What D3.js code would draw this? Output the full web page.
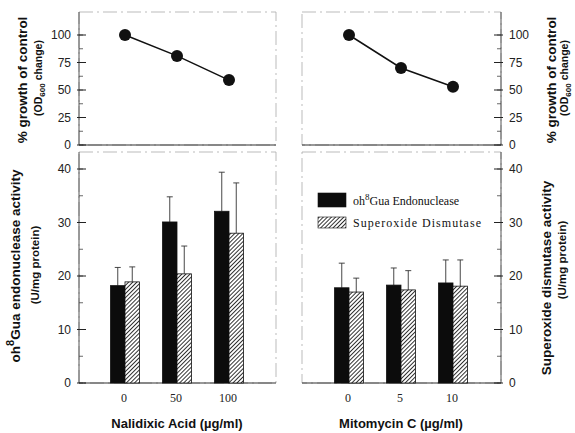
<!DOCTYPE html>
<html>
<head>
<meta charset="utf-8">
<script src="https://cdn.jsdelivr.net/npm/d3@7"></script>
<style>
  body { margin: 0; background: #fff; }
  svg { display: block; }
  .tick-label { font-family: "Liberation Sans", Arial, sans-serif; font-size: 12px; fill: #222; }
  .dose-label { font-family: "Liberation Serif", "Times New Roman", serif; font-size: 12px; fill: #222; }
  .title { font-family: "Liberation Sans", Arial, sans-serif; font-weight: bold; fill: #111; }
  .legend-text { font-family: "Liberation Serif", "Times New Roman", serif; font-size: 12px; fill: #111; }
</style>
</head>
<body>
<svg id="chart" width="575" height="433"></svg>
<script>
// doses per drug
var nalDoses = ["0", "50", "100"];
var mitDoses = ["0", "5", "10"];

// % growth of control (OD600 change)
var nalGrowth = [100, 81, 59];
var mitGrowth = [100, 70, 53];

// enzyme activities, U/mg protein (mean and error)
var nalEndo = [18.2, 30.1, 32.1];
var nalEndoErr = [3.4, 4.7, 7.3];
var nalSod = [18.9, 20.4, 28.0];
var nalSodErr = [2.8, 5.2, 9.4];
var mitEndo = [17.8, 18.3, 18.7];
var mitEndoErr = [4.6, 3.2, 4.3];
var mitSod = [17.0, 17.4, 18.1];
var mitSodErr = [2.6, 3.6, 4.9];

var growthTicks = [0, 25, 50, 75, 100];
var activityTicks = [0, 10, 20, 30, 40];
var legendLabels = ["Endonuclease", "Superoxide Dismutase"];

var svg = d3.select("#chart");

// hatch pattern for superoxide dismutase bars
var defs = svg.append("defs");
var pat = defs.append("pattern")
    .attr("id", "hatch")
    .attr("patternUnits", "userSpaceOnUse")
    .attr("width", 2.9)
    .attr("height", 2.9)
    .attr("patternTransform", "rotate(45)");
pat.append("rect").attr("width", 2.9).attr("height", 2.9).attr("fill", "#fff");
pat.append("line")
    .attr("x1", 0).attr("y1", 0).attr("x2", 0).attr("y2", 2.9)
    .attr("stroke", "#111").attr("stroke-width", 1.7);

var yGrowth = d3.scaleLinear().domain([0, 100]).range([145, 35]);
var yAct = d3.scaleLinear().domain([0, 40]).range([383, 169]);

var panels = [
    {doses: nalDoses, growth: nalGrowth, endo: nalEndo, endoErr: nalEndoErr,
     sod: nalSod, sodErr: nalSodErr, x0: 79, x1: 276, range: [125, 229],
     side: "left", drug: "Nalidixic Acid (\u00b5g/ml)"},
    {doses: mitDoses, growth: mitGrowth, endo: mitEndo, endoErr: mitEndoErr,
     sod: mitSod, sodErr: mitSodErr, x0: 302, x1: 501, range: [349, 453],
     side: "right", drug: "Mitomycin C (\u00b5g/ml)"}
];

var BAR_W = 14.5;

function drawFrame(g, x0, x1, yTopPx, yBotPx, side) {
    // faint frame like the scanned original
    g.append("rect")
        .attr("x", x0).attr("y", yTopPx)
        .attr("width", x1 - x0).attr("height", yBotPx - yTopPx)
        .attr("fill", "none")
        .attr("stroke", "#aaa")
        .attr("stroke-width", 0.8)
        .attr("stroke-dasharray", "14,4,2,4");
    var axX = side == "left" ? x0 : x1;
    g.append("line")
        .attr("x1", axX).attr("x2", axX)
        .attr("y1", yTopPx).attr("y2", yBotPx)
        .attr("stroke", "#555").attr("stroke-width", 1);
    g.append("line")
        .attr("x1", x0).attr("x2", x1)
        .attr("y1", yBotPx).attr("y2", yBotPx)
        .attr("stroke", "#333").attr("stroke-width", 1.2);
}

function drawYTicks(g, scale, ticks, minorStep, axX, side) {
    var dir = side == "left" ? 1 : -1;
    var minor = d3.range(scale.domain()[0], ticks[ticks.length - 1] + 0.01, minorStep);
    g.selectAll(".minor").data(minor).enter().append("line")
        .attr("x1", axX).attr("x2", axX + dir * 4)
        .attr("y1", scale).attr("y2", scale)
        .attr("stroke", "#444").attr("stroke-width", 0.8);
    g.selectAll(".major").data(ticks).enter().append("line")
        .attr("x1", axX - dir * 2).attr("x2", axX + dir * 7)
        .attr("y1", scale).attr("y2", scale)
        .attr("stroke", "#222").attr("stroke-width", 1);
    g.selectAll(".tl").data(ticks).enter().append("text")
        .attr("class", "tick-label")
        .attr("x", side == "left" ? axX - 8 : axX + 8)
        .attr("y", scale)
        .attr("dy", "0.35em")
        .attr("text-anchor", side == "left" ? "end" : "start")
        .text(function(d) { return d; });
}

panels.forEach(function(p) {
    var g = svg.append("g");
    var x = d3.scalePoint().domain(p.doses).range(p.range);
    var axX = p.side == "left" ? p.x0 : p.x1;

    // TOP: growth
    drawFrame(g, p.x0, p.x1, 12, 145, p.side);
    drawYTicks(g.append("g"), yGrowth, growthTicks, 12.5, axX, p.side);
    var line = d3.line()
        .x(function(d, i) { return x(p.doses[i]); })
        .y(function(d) { return yGrowth(d); });
    g.append("path")
        .datum(p.growth)
        .attr("d", line)
        .attr("fill", "none")
        .attr("stroke", "#111")
        .attr("stroke-width", 1.5);
    g.selectAll(".pt").data(p.growth).enter().append("circle")
        .attr("cx", function(d, i) { return x(p.doses[i]); })
        .attr("cy", yGrowth)
        .attr("r", 6)
        .attr("fill", "#111");

    // BOTTOM: enzyme activities
    drawFrame(g, p.x0, p.x1, 152, 383, p.side);
    drawYTicks(g.append("g"), yAct, activityTicks, 5, axX, p.side);

    var series = [
        {vals: p.endo, errs: p.endoErr, off: -BAR_W, fill: "#0c0c0c"},
        {vals: p.sod, errs: p.sodErr, off: 0, fill: "url(#hatch)"}
    ];
    series.forEach(function(s) {
        // error bars (upper only)
        g.selectAll(null).data(s.vals).enter().append("line")
            .attr("x1", function(d, i) { return x(p.doses[i]) + s.off + BAR_W / 2; })
            .attr("x2", function(d, i) { return x(p.doses[i]) + s.off + BAR_W / 2; })
            .attr("y1", yAct)
            .attr("y2", function(d, i) { return yAct(d + s.errs[i]); })
            .attr("stroke", "#333").attr("stroke-width", 0.9);
        g.selectAll(null).data(s.vals).enter().append("line")
            .attr("x1", function(d, i) { return x(p.doses[i]) + s.off + BAR_W / 2 - 3; })
            .attr("x2", function(d, i) { return x(p.doses[i]) + s.off + BAR_W / 2 + 3; })
            .attr("y1", function(d, i) { return yAct(d + s.errs[i]); })
            .attr("y2", function(d, i) { return yAct(d + s.errs[i]); })
            .attr("stroke", "#333").attr("stroke-width", 0.9);
        g.selectAll(null).data(s.vals).enter().append("rect")
            .attr("x", function(d, i) { return x(p.doses[i]) + s.off; })
            .attr("y", yAct)
            .attr("width", BAR_W)
            .attr("height", function(d) { return yAct(0) - yAct(d); })
            .attr("fill", s.fill)
            .attr("stroke", "#111")
            .attr("stroke-width", 0.8);
    });

    // dose labels
    g.selectAll(".dose").data(p.doses).enter().append("text")
        .attr("class", "dose-label")
        .attr("x", function(d) { return x(d) - 1; })
        .attr("y", 402)
        .attr("text-anchor", "middle")
        .text(function(d) { return d; });

    // drug axis title
    g.append("text")
        .attr("class", "title")
        .attr("x", (p.range[0] + p.range[1]) / 2)
        .attr("y", 428)
        .attr("text-anchor", "middle")
        .style("font-size", "13px")
        .text(p.drug);
});

// Y axis titles
function vTitle(cx, cy, size, build) {
    var t = svg.append("text")
        .attr("class", "title")
        .attr("transform", "translate(" + cx + "," + cy + ") rotate(-90)")
        .attr("text-anchor", "middle")
        .style("font-size", size + "px");
    build(t);
}

function odLabel(t) {
    t.append("tspan").text("(OD");
    t.append("tspan").attr("dy", 3).style("font-size", "8px").text("600");
    t.append("tspan").attr("dy", -3).text(" change)");
}

// left: growth
vTitle(27, 80, 13.5, function(t) { t.text("% growth of control"); });
vTitle(42, 78, 10.5, odLabel);
// right: growth
vTitle(556, 80, 13.5, function(t) { t.text("% growth of control"); });
vTitle(568, 78, 10.5, odLabel);
// left: endonuclease activity
vTitle(20, 266, 13.5, function(t) {
    t.append("tspan").text("oh");
    t.append("tspan").attr("dy", -6).style("font-size", "11px").text("8");
    t.append("tspan").attr("dy", 6).text("Gua endonuclease activity");
});
vTitle(39, 265, 11.5, function(t) { t.text("(U/mg protein)"); });
// right: SOD activity
vTitle(551, 278, 13.5, function(t) { t.text("Superoxide dismutase activity"); });
vTitle(566, 260, 11.5, function(t) { t.text("(U/mg protein)"); });

// legend
var legend = svg.append("g").attr("transform", "translate(318,193)");
var legendFills = ["#0c0c0c", "url(#hatch)"];
legendFills.forEach(function(f, i) {
    legend.append("rect")
        .attr("x", 0).attr("y", i * 24)
        .attr("width", 28).attr("height", i == 0 ? 14 : 11)
        .attr("fill", f)
        .attr("stroke", "#111").attr("stroke-width", 0.6);
});
var lt0 = legend.append("text").attr("class", "legend-text").attr("x", 35).attr("y", 12);
lt0.append("tspan").text("oh");
lt0.append("tspan").attr("dy", -5).style("font-size", "9px").text("8");
lt0.append("tspan").attr("dy", 5).text("Gua " + legendLabels[0]);
legend.append("text").attr("class", "legend-text")
    .attr("x", 35).attr("y", 34)
    .attr("textLength", 128)
    .attr("lengthAdjust", "spacing")
    .text(legendLabels[1]);
</script>
</body>
</html>
